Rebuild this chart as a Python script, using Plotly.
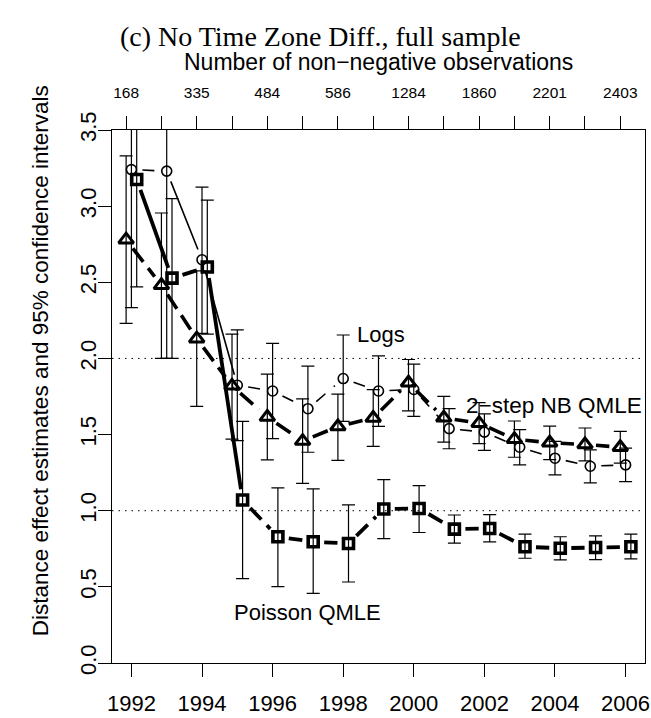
import math
import plotly.graph_objects as go

# ---------------- data ----------------
years = list(range(1992, 2007))

# 2-step NB QMLE (triangles)
nb_est = [2.78, 2.48, 2.13, 1.82, 1.615, 1.457, 1.553, 1.609, 1.84, 1.61, 1.575, 1.47, 1.446, 1.435, 1.417]
nb_lo = [2.23, 2.00, 1.685, 1.47, 1.334, 1.18, 1.33, 1.422, 1.655, 1.45, 1.44, 1.351, 1.336, 1.327, 1.313]
nb_hi = [3.33, 2.955, 2.575, 2.16, 1.897, 1.734, 1.765, 1.795, 1.993, 1.751, 1.71, 1.589, 1.556, 1.543, 1.521]

# Logs (circles)
logs_est = [3.24, 3.23, 2.648, 1.824, 1.786, 1.67, 1.868, 1.786, 1.796, 1.539, 1.516, 1.417, 1.345, 1.292, 1.301]
logs_lo = [2.334, 2.0, 2.165, 1.46, 1.473, 1.384, 1.587, 1.554, 1.62, 1.407, 1.396, 1.301, 1.235, 1.183, 1.191]
logs_hi = [4.15, 4.46, 3.125, 2.187, 2.099, 1.95, 2.154, 2.017, 1.962, 1.670, 1.636, 1.533, 1.455, 1.40, 1.411]

# Poisson QMLE (squares)
pois_est = [3.175, 2.527, 2.60, 1.07, 0.829, 0.796, 0.785, 1.011, 1.015, 0.879, 0.883, 0.763, 0.754, 0.758, 0.763]
pois_lo = [2.47, 2.0, 2.16, 0.554, 0.501, 0.457, 0.532, 0.817, 0.857, 0.787, 0.796, 0.688, 0.677, 0.679, 0.684]
pois_hi = [3.88, 3.05, 3.04, 1.587, 1.15, 1.143, 1.038, 1.204, 1.165, 0.972, 0.974, 0.846, 0.829, 0.835, 0.846]

# top axis: number of non-negative observations (labelled years)
obs_years = [1992, 1994, 1996, 1998, 2000, 2002, 2004, 2006]
obs_labels = ["168", "335", "484", "586", "1284", "1860", "2201", "2403"]

ref_lines = [1.0, 2.0]

# ---------------- layout / style ----------------
FIG_W, FIG_H = 651, 718
ML, MR, MT, MB = 112, 6, 130, 55
XR = [1991.45, 2006.55]
YR = [0.0, 3.5]
PW = FIG_W - ML - MR
PH = FIG_H - MT - MB
SX = PW / (XR[1] - XR[0])
SY = PH / (YR[1] - YR[0])

SANS = "Liberation Sans, Arial, sans-serif"
SERIF = "Liberation Serif, Times New Roman, serif"

fig = go.Figure()


def dash_for(L, G, D, E, solid):
    vis = L - 2 * G
    if vis <= 0.5:
        return None
    arr = [0.0, G]
    if solid:
        arr += [vis, 10000.0]
    else:
        pos = 0.0
        while True:
            on = min(D, vis - pos)
            arr.append(on)
            pos += on
            if pos >= vis - 1e-6:
                break
            off = min(E, vis - pos)
            arr.append(off)
            pos += off
            if pos >= vis - 1e-6:
                break
        if len(arr) % 2 == 1:
            arr.append(10000.0)
        else:
            arr[-1] = 10000.0
    return ",".join(f"{v:.1f}px" for v in arr)


series = [
    dict(est=nb_est, lo=nb_lo, hi=nb_hi, off=-0.15, sym="triangle-up-open", ms=13, mlw=3.0,
         lw=3.6, G=11, D=17, E=8, solid=[]),
    dict(est=logs_est, lo=logs_lo, hi=logs_hi, off=0.0, sym="circle-open", ms=10, mlw=1.6,
         lw=1.6, G=11, D=12, E=11, solid=[1, 2]),
    dict(est=pois_est, lo=pois_lo, hi=pois_hi, off=0.15, sym="square-open", ms=10, mlw=3.6,
         lw=3.8, G=11, D=16, E=8, solid=[0, 2]),
]

# reference dotted lines
for v in ref_lines:
    fig.add_shape(type="line", xref="paper", x0=0, x1=1, yref="y", y0=v, y1=v,
                  line=dict(color="black", width=1, dash="1.5px,5px"), layer="below")

for s in series:
    xs = [yr + s["off"] for yr in years]
    ys = s["est"]
    # connecting lines, R type="b" style (gaps around points)
    for i in range(len(xs) - 1):
        dx = (xs[i + 1] - xs[i]) * SX
        dy = (ys[i + 1] - ys[i]) * SY
        L = math.hypot(dx, dy)
        d = dash_for(L, s["G"], s["D"], s["E"], i in s["solid"])
        if d is None:
            continue
        fig.add_trace(go.Scatter(x=[xs[i], xs[i + 1]], y=[ys[i], ys[i + 1]], mode="lines",
                                 line=dict(color="black", width=s["lw"], dash=d),
                                 showlegend=False, hoverinfo="skip"))
    # points + confidence intervals
    fig.add_trace(go.Scatter(
        x=xs, y=ys, mode="markers",
        marker=dict(symbol=s["sym"], size=s["ms"], color="black",
                    line=dict(color="black", width=s["mlw"])),
        error_y=dict(type="data", symmetric=False,
                     array=[h - e for h, e in zip(s["hi"], ys)],
                     arrayminus=[e - l for e, l in zip(ys, s["lo"])],
                     color="black", thickness=1.2, width=6.5),
        showlegend=False, hoverinfo="skip"))

# top axis anchor trace
top_pos = [yr - 0.15 for yr in years]
top_text = [obs_labels[obs_years.index(yr)] if yr in obs_years else "" for yr in years]
fig.add_trace(go.Scatter(x=top_pos, y=[None] * len(top_pos), xaxis="x2", mode="markers",
                         showlegend=False, hoverinfo="skip"))

# labels inside the plot
fig.add_annotation(x=1999.06, y=2.16, text="Logs", showarrow=False,
                   font=dict(family=SANS, size=22, color="black"))
fig.add_annotation(x=2003.97, y=1.69, text="2\u2212step NB QMLE", showarrow=False,
                   font=dict(family=SANS, size=22.5, color="black"))
fig.add_annotation(x=1997.0, y=0.33, text="Poisson QMLE", showarrow=False,
                   font=dict(family=SANS, size=22, color="black"))

# axis titles
fig.add_annotation(xref="paper", yref="paper", x=0, y=0.566, xshift=-72, textangle=-90,
                   text="Distance effect estimates and 95% confidence intervals",
                   showarrow=False, xanchor="center", yanchor="middle",
                   font=dict(family=SANS, size=22.5, color="black"))
fig.add_annotation(xref="paper", yref="paper", x=0.5, y=1, yshift=68,
                   text="Number of non\u2212negative observations",
                   showarrow=False, xanchor="center", yanchor="middle",
                   font=dict(family=SANS, size=23, color="black"))

axis_common = dict(showgrid=False, zeroline=False, showline=True, linecolor="black",
                   linewidth=1.2, ticks="outside", ticklen=13, tickwidth=1.2,
                   tickcolor="black")

fig.update_layout(
    width=FIG_W, height=FIG_H,
    margin=dict(l=ML, r=MR, t=MT, b=MB, autoexpand=False),
    paper_bgcolor="white", plot_bgcolor="white",
    showlegend=False,
    title=dict(text="(c) No Time Zone Diff., full sample", x=0.492, xref="container",
               xanchor="center", y=1 - 36 / FIG_H, yref="container", yanchor="middle",
               font=dict(family=SERIF, size=28, color="black")),
    xaxis=dict(range=XR, tickmode="linear", tick0=1992, dtick=2, mirror=True,
               tickfont=dict(family=SANS, size=22, color="black"),
               ticklabelstandoff=7, **axis_common),
    xaxis2=dict(range=XR, overlaying="x", side="top", anchor="y",
                tickmode="array", tickvals=top_pos, ticktext=top_text,
                tickfont=dict(family=SANS, size=15.5, color="black"),
                ticklabelstandoff=12, **axis_common),
    yaxis=dict(range=YR, tickmode="linear", tick0=0, dtick=0.5, tickformat=".1f",
               tickangle=-90, mirror=True, ticklabelstandoff=-7,
               tickfont=dict(family=SANS, size=22, color="black"),
               **axis_common),
)

fig.write_html("out.html", config={"displayModeBar": False},
               post_script="document.body.style.margin='0px';")
